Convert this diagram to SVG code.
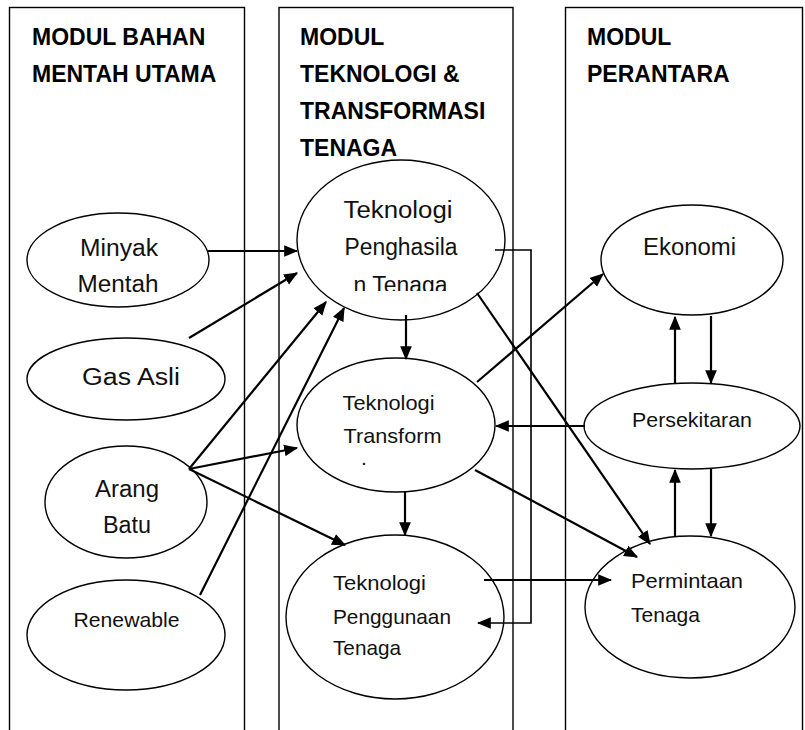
<svg xmlns="http://www.w3.org/2000/svg" width="805" height="730" viewBox="0 0 805 730">
<style>
.panel{fill:#fff;stroke:#000;stroke-width:1.4}
.node{fill:#fff;stroke:#000;stroke-width:1.4}
.title{font-family:"Liberation Sans",Arial,sans-serif;font-weight:bold;font-size:23px;fill:#000}
.t{font-family:"Liberation Sans",Arial,sans-serif;font-size:23px;fill:#111}
.ts{font-family:"Liberation Sans",Arial,sans-serif;font-size:21px;fill:#111}
.c{fill:none;stroke:#000;stroke-width:2.2}
.e{fill:none;stroke:#000;stroke-width:1.6}
</style>
<defs>
<marker id="ah" viewBox="0 0 12 10" markerWidth="14" markerHeight="12" refX="11" refY="5" orient="auto" markerUnits="userSpaceOnUse">
<path d="M0,0 L12,5 L0,10 Z" fill="#000"/>
</marker>
<clipPath id="clipTPH"><rect x="290" y="150" width="230" height="141"/></clipPath>
</defs>
<rect width="805" height="730" fill="#fff"/>
<g id="panel-bahan">
<rect class="panel" x="9.5" y="7.5" width="235" height="740"/>
<text class="title" x="32" y="45">MODUL BAHAN</text>
<text class="title" x="32" y="82">MENTAH UTAMA</text>
</g>
<g id="panel-teknologi">
<rect class="panel" x="279" y="7.5" width="234" height="740"/>
<text class="title" x="300" y="45">MODUL</text>
<text class="title" x="300" y="82">TEKNOLOGI &amp;</text>
<text class="title" x="300" y="119">TRANSFORMASI</text>
<text class="title" x="300" y="156">TENAGA</text>
</g>
<g id="panel-perantara">
<rect class="panel" x="565.5" y="7.5" width="237" height="740"/>
<text class="title" x="587" y="45">MODUL</text>
<text class="title" x="587" y="82">PERANTARA</text>
</g>
<g id="minyak">
<ellipse class="node" cx="118" cy="260" rx="91" ry="47"/>
<text class="t" x="119" y="256" text-anchor="middle" textLength="78" lengthAdjust="spacingAndGlyphs">Minyak</text>
<text class="t" x="118" y="292" text-anchor="middle" textLength="81" lengthAdjust="spacingAndGlyphs">Mentah</text>
</g>
<g id="gas">
<ellipse class="node" cx="126" cy="379" rx="99" ry="41"/>
<text class="t" x="131" y="385" text-anchor="middle" textLength="98" lengthAdjust="spacingAndGlyphs">Gas Asli</text>
</g>
<g id="arang">
<ellipse class="node" cx="126" cy="502" rx="81" ry="56"/>
<text class="t" x="127" y="497" text-anchor="middle" textLength="64" lengthAdjust="spacingAndGlyphs">Arang</text>
<text class="t" x="127" y="533" text-anchor="middle" textLength="48" lengthAdjust="spacingAndGlyphs">Batu</text>
</g>
<g id="renewable">
<ellipse class="node" cx="126" cy="635" rx="99" ry="55"/>
<text class="ts" x="126.5" y="627" text-anchor="middle" textLength="106" lengthAdjust="spacingAndGlyphs">Renewable</text>
</g>
<g id="tek-penghasilan">
<ellipse class="node" cx="401" cy="240" rx="104" ry="80"/>
<text class="t" x="398" y="218" text-anchor="middle" textLength="109" lengthAdjust="spacingAndGlyphs">Teknologi</text>
<text class="t" x="401" y="255" text-anchor="middle" textLength="113" lengthAdjust="spacingAndGlyphs">Penghasila</text>
<text class="t" x="400.5" y="293" text-anchor="middle" textLength="94" lengthAdjust="spacingAndGlyphs" clip-path="url(#clipTPH)">n Tenaga</text>
</g>
<g id="tek-transformasi">
<ellipse class="node" cx="396" cy="425" rx="99" ry="67"/>
<text class="ts" x="388.5" y="410" text-anchor="middle" textLength="92" lengthAdjust="spacingAndGlyphs">Teknologi</text>
<text class="ts" x="392.5" y="443" text-anchor="middle" textLength="98" lengthAdjust="spacingAndGlyphs">Transform</text>
<text class="ts" x="364" y="465" text-anchor="middle">.</text>
</g>
<g id="tek-penggunaan">
<ellipse class="node" cx="395" cy="617" rx="109" ry="82"/>
<text class="ts" x="333" y="590" textLength="93" lengthAdjust="spacingAndGlyphs">Teknologi</text>
<text class="ts" x="333" y="624" textLength="118" lengthAdjust="spacingAndGlyphs">Penggunaan</text>
<text class="ts" x="333" y="655" textLength="68" lengthAdjust="spacingAndGlyphs">Tenaga</text>
</g>
<g id="ekonomi">
<ellipse class="node" cx="692" cy="260" rx="91" ry="55"/>
<text class="t" x="689.5" y="255" text-anchor="middle" textLength="93" lengthAdjust="spacingAndGlyphs">Ekonomi</text>
</g>
<g id="persekitaran">
<ellipse class="node" cx="692" cy="426" rx="108" ry="43"/>
<text class="ts" x="692" y="427" text-anchor="middle" textLength="120" lengthAdjust="spacingAndGlyphs">Persekitaran</text>
</g>
<g id="permintaan">
<ellipse class="node" cx="690" cy="607" rx="105" ry="71"/>
<text class="ts" x="631" y="588" textLength="112" lengthAdjust="spacingAndGlyphs">Permintaan</text>
<text class="ts" x="631" y="622" textLength="69" lengthAdjust="spacingAndGlyphs">Tenaga</text>
</g>
<g id="connectors">
<line class="c" x1="208" y1="251" x2="297" y2="251" marker-end="url(#ah)"/>
<line class="c" x1="189" y1="338" x2="297" y2="273" marker-end="url(#ah)"/>
<line class="c" x1="189" y1="469" x2="326" y2="302" marker-end="url(#ah)"/>
<line class="c" x1="200" y1="595" x2="344" y2="308" marker-end="url(#ah)"/>
<line class="c" x1="189" y1="469" x2="297" y2="448" marker-end="url(#ah)"/>
<line class="c" x1="189" y1="469" x2="345" y2="545" marker-end="url(#ah)"/>
<line class="c" x1="406" y1="315" x2="406" y2="359" marker-end="url(#ah)"/>
<line class="c" x1="405" y1="492" x2="405" y2="535" marker-end="url(#ah)"/>
<line class="c" x1="477" y1="293" x2="650" y2="544" marker-end="url(#ah)"/>
<line class="c" x1="475" y1="470" x2="637" y2="557" marker-end="url(#ah)"/>
<line class="c" x1="477" y1="382" x2="603" y2="274" marker-end="url(#ah)"/>
<line class="c" x1="585" y1="426" x2="496" y2="426" marker-end="url(#ah)"/>
<line class="c" x1="675" y1="383" x2="675" y2="317" marker-end="url(#ah)"/>
<line class="c" x1="711" y1="316" x2="711" y2="383" marker-end="url(#ah)"/>
<line class="c" x1="675" y1="537" x2="675" y2="470" marker-end="url(#ah)"/>
<line class="c" x1="711" y1="469" x2="711" y2="536" marker-end="url(#ah)"/>
<line class="c" x1="484" y1="580" x2="611" y2="580" marker-end="url(#ah)"/>
<polyline class="e" points="495,250 531,250 531,623 478,623" marker-end="url(#ah)"/>
</g>
</svg>
